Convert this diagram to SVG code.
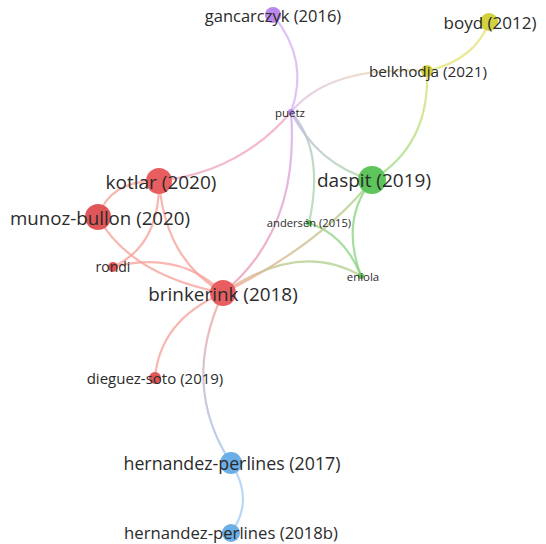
<svg xmlns="http://www.w3.org/2000/svg" width="546" height="544" viewBox="0 0 546 544">
<style>
.e{fill:none;stroke-width:2.2;stroke-opacity:0.8}
.r{stroke:#f6a49c}
.lbl{font-family:"Open Sans","DejaVu Sans",sans-serif;fill:#2b2b2b;text-anchor:middle;dominant-baseline:central}
</style>
<defs>
<linearGradient id="gRB" x1="0" y1="0" x2="0" y2="1"><stop offset="0" stop-color="#f6a49c"/><stop offset="1" stop-color="#9cc8f0"/></linearGradient>
<linearGradient id="gPR" x1="0" y1="0" x2="0" y2="1"><stop offset="0" stop-color="#d4aaf0"/><stop offset="1" stop-color="#f09cb0"/></linearGradient>
<linearGradient id="gRG" x1="0" y1="1" x2="1" y2="0"><stop offset="0" stop-color="#f2ab98"/><stop offset="1" stop-color="#a8d890"/></linearGradient>
<linearGradient id="gPY" x1="0" y1="1" x2="1" y2="0"><stop offset="0" stop-color="#dcc0ee"/><stop offset="1" stop-color="#eadcb0"/></linearGradient>
<linearGradient id="gYG" x1="0" y1="0" x2="0" y2="1"><stop offset="0" stop-color="#e2e27a"/><stop offset="1" stop-color="#9edc8a"/></linearGradient>
<linearGradient id="gPG" x1="0" y1="0" x2="1" y2="1"><stop offset="0" stop-color="#c6b4ea"/><stop offset="1" stop-color="#a8dca0"/></linearGradient>
</defs>
<g id="connectors">
<path class="e" stroke="#d8b4f4" d="M273,15 Q310,60 291,112"/>
<path class="e" stroke="url(#gPY)" d="M291,112 Q330,65 427,71"/>
<path class="e" stroke="#e4e47e" d="M427,71 Q475,60 489,22"/>
<path class="e" stroke="url(#gYG)" d="M427,71 Q430,145 372,180"/>
<path class="e" stroke="url(#gPG)" d="M291,112 Q318,165 372,180"/>
<path class="e" stroke="url(#gPG)" d="M291,112 Q325,150 309,223"/>
<path class="e" stroke="#f0a8c4" d="M291,112 Q240,172 159,181"/>
<path class="e" stroke="url(#gPR)" d="M291,112 Q300,230 223,293"/>
<path class="e" stroke="#8fd486" d="M372,180 Q340,220 361,276"/>
<path class="e" stroke="#8fd486" d="M309,223 Q345,235 361,276"/>
<path class="e" stroke="url(#gRG)" d="M223,293 Q320,245 372,180"/>
<path class="e" stroke="url(#gRG)" d="M223,293 Q300,240 361,276"/>
<path class="e r" d="M98,217 Q110,180 159,181"/>
<path class="e r" d="M159,181 Q160,245 113,267"/>
<path class="e r" d="M159,181 Q165,260 223,293"/>
<path class="e r" d="M98,217 Q130,275 223,293"/>
<path class="e r" d="M113,267 Q180,250 223,293"/>
<path class="e r" d="M223,293 Q160,320 155,378"/>
<path class="e" stroke="url(#gRB)" d="M223,293 Q180,385 231,463"/>
<path class="e" stroke="#a6cef4" d="M231,463 Q255,500 231,533"/>
</g>
<g id="gancarczyk"><circle cx="273" cy="15" r="8" fill="#b888ea"/><text class="lbl" x="273" y="15" font-size="16.5">gancarczyk (2016)</text></g>
<g id="boyd"><circle cx="489" cy="22" r="9" fill="#d2d23e"/><text class="lbl" x="490" y="22" font-size="17">boyd (2012)</text></g>
<g id="belkhodja"><circle cx="427" cy="71" r="6" fill="#d2d23e"/><text class="lbl" x="428" y="71" font-size="15.3">belkhodja (2021)</text></g>
<g id="puetz"><circle cx="291" cy="112" r="3" fill="#b888ea"/><text class="lbl" x="290" y="112" font-size="11.5">puetz</text></g>
<g id="daspit"><circle cx="372" cy="180" r="14" fill="#5ec45c"/><text class="lbl" x="374" y="180" font-size="19">daspit (2019)</text></g>
<g id="kotlar"><circle cx="159" cy="181" r="13" fill="#e85e60"/><text class="lbl" x="161" y="182" font-size="19">kotlar (2020)</text></g>
<g id="munoz-bullon"><circle cx="98" cy="217" r="13" fill="#e05658"/><text class="lbl" x="100" y="217" font-size="18.7">munoz-bullon (2020)</text></g>
<g id="andersen"><circle cx="309" cy="223" r="3" fill="#5ec45c"/><text class="lbl" x="309" y="222" font-size="11.2">andersén (2015)</text></g>
<g id="rondi"><circle cx="113" cy="267" r="5" fill="#e05658"/><text class="lbl" x="113" y="266" font-size="14">rondi</text></g>
<g id="eniola"><circle cx="361" cy="276" r="3" fill="#5ec45c"/><text class="lbl" x="363" y="276" font-size="11.4">eniola</text></g>
<g id="brinkerink"><circle cx="223" cy="293" r="13" fill="#e85e60"/><text class="lbl" x="223" y="294" font-size="18.9">brinkerink (2018)</text></g>
<g id="dieguez-soto"><circle cx="155" cy="378" r="6" fill="#e05658"/><text class="lbl" x="155" y="378" font-size="15">dieguez-soto (2019)</text></g>
<g id="hernandez-perlines-2017"><circle cx="231" cy="463" r="11" fill="#6caee6"/><text class="lbl" x="232" y="463" font-size="17.8">hernandez-perlines (2017)</text></g>
<g id="hernandez-perlines-2018b"><circle cx="231" cy="533" r="9" fill="#6caee6"/><text class="lbl" x="231" y="532" font-size="16.7">hernandez-perlines (2018b)</text></g>
</svg>
